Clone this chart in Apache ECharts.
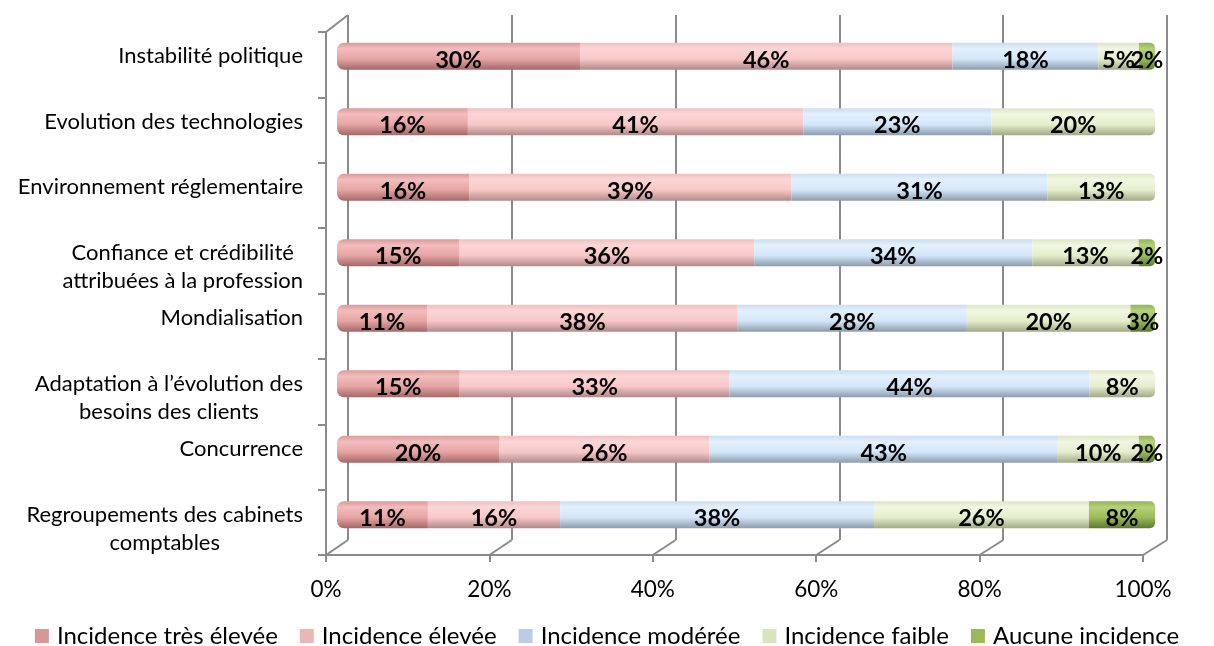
<!DOCTYPE html>
<html>
<head>
<meta charset="utf-8">
<script src="https://cdn.jsdelivr.net/npm/echarts@6/dist/echarts.min.js"></script>
<style>
  html, body { margin: 0; padding: 0; background: #ffffff; }
  #chart { width: 1214px; height: 646px; }
</style>
</head>
<body>
<div id="chart"></div>
<script>
// Facteurs d'incidence sur la profession (répartition des réponses, %)
const categories = [
  'Instabilité politique',
  'Evolution des technologies',
  'Environnement réglementaire',
  'Confiance et crédibilité\nattribuées à la profession',
  'Mondialisation',
  'Adaptation à l’évolution des\nbesoins des clients',
  'Concurrence',
  'Regroupements des cabinets\ncomptables'
];
const seriesNames = [
  'Incidence très élevée',
  'Incidence élevée',
  'Incidence modérée',
  'Incidence faible',
  'Aucune incidence'
];
const tresElevee = [30, 16, 16, 15, 11, 15, 20, 11];
const elevee     = [46, 41, 39, 36, 38, 33, 26, 16];
const moderee    = [18, 23, 31, 34, 28, 44, 43, 38];
const faible     = [5, 20, 13, 13, 20, 8, 10, 26];
const aucune     = [2, 0, 0, 2, 3, 0, 2, 8];
const axisTicks  = [0, 20, 40, 60, 80, 100];

const values = [tresElevee, elevee, moderee, faible, aucune];

// Styling
const FONT = 'Lato';
const LINE = '#8a8a8a';
const legendColors = ['#D99694', '#E6B9B8', '#B9CDE5', '#D7E4BD', '#9BBB59'];
// cylinder shading: top edge, highlight, body, shadowed bottom
const shades = [
  ['#DA9A9A', '#F3BDBD', '#E6A4A4', '#A36868'],
  ['#EFC0C0', '#FCD6D6', '#F8C8C8', '#B08989'],
  ['#CCDDF0', '#E3F0FD', '#D4E6FA', '#8D9CAC'],
  ['#DCE6C4', '#F1F7E2', '#E4EECB', '#A0AA88'],
  ['#93B356', '#B4D279', '#9BBB59', '#5E7930']
];

// Wall geometry of the pseudo-3D frame (back wall, floor/side, bar plane)
const BACK  = { left: 348, top: 15, right: 1167, bottom: 540 };
const FRONT = { left: 326, top: 32, right: 1143, bottom: 555 };
const MID = {
  left: (BACK.left + FRONT.left) / 2,
  top: (BACK.top + FRONT.top) / 2,
  right: (BACK.right + FRONT.right) / 2,
  bottom: (BACK.bottom + FRONT.bottom) / 2
};
const W = 1214, H = 646;

// 100% stacked: each row is scaled by its own total
const totals = categories.map((_, i) => values.reduce((s, arr) => s + arr[i], 0));
const lastIdx = categories.map((_, i) => {
  let k = -1;
  values.forEach((arr, j) => { if (arr[i] > 0) k = j; });
  return k;
});

function cylinder(s) {
  return new echarts.graphic.LinearGradient(0, 0, 0, 1, [
    { offset: 0, color: s[0] },
    { offset: 0.22, color: s[1] },
    { offset: 0.6, color: s[2] },
    { offset: 1, color: s[3] }
  ]);
}

const barSeries = values.map((arr, j) => ({
  name: seriesNames[j],
  type: 'bar',
  stack: 'total',
  xAxisIndex: 2,
  yAxisIndex: 2,
  barWidth: 27,
  z: 5,
  itemStyle: { color: cylinder(shades[j]) },
  label: {
    show: true,
    position: 'inside',
    offset: [0, 4],
    fontFamily: FONT,
    fontWeight: 'bold',
    fontSize: 23.5,
    color: '#000000',
    formatter: p => (p.data.raw ? p.data.raw + '%' : '')
  },
  data: arr.map((v, i) => {
    const r = [j === 0 ? 7 : 0, lastIdx[i] === j ? 5 : 0, lastIdx[i] === j ? 5 : 0, j === 0 ? 7 : 0];
    return { value: v / totals[i] * 100, raw: v, itemStyle: { borderRadius: r } };
  })
}));

const catAxisData = categories.map(c => (
  c.indexOf('\n') >= 0
    ? { value: c, textStyle: { padding: [28, 0, 0, 0] } }
    : c
));

const chart = echarts.init(document.getElementById('chart'), null, { renderer: 'canvas' });

chart.setOption({
  animation: false,
  backgroundColor: '#ffffff',
  grid: [
    { left: BACK.left, right: W - BACK.right, top: BACK.top, bottom: H - BACK.bottom },
    { left: FRONT.left, right: W - FRONT.right, top: FRONT.top, bottom: H - FRONT.bottom },
    { left: MID.left, right: W - MID.right, top: MID.top, bottom: H - MID.bottom }
  ],
  xAxis: [
    { // back wall gridlines
      gridIndex: 0, type: 'value', min: 0, max: 100, interval: 20,
      axisLine: { show: false }, axisTick: { show: false }, axisLabel: { show: false },
      splitLine: { show: true, lineStyle: { color: LINE, width: 2 } }
    },
    { // floor front edge with the percentage scale
      gridIndex: 1, type: 'value', min: 0, max: 100, interval: 20,
      axisLine: { show: true, lineStyle: { color: LINE, width: 2 } },
      axisTick: { show: true, length: 7, lineStyle: { color: LINE, width: 2 } },
      splitLine: { show: false },
      axisLabel: {
        show: true, margin: 23, fontFamily: FONT, fontSize: 22.5, color: '#000000',
        formatter: v => (axisTicks.indexOf(v) >= 0 ? v + '%' : '')
      }
    },
    { // bar plane
      gridIndex: 2, type: 'value', min: 0, max: 100, show: false
    }
  ],
  yAxis: [
    { gridIndex: 0, type: 'category', data: categories, show: false },
    { // side wall
      gridIndex: 1, type: 'category', data: categories, inverse: true,
      axisLine: { show: true, lineStyle: { color: LINE, width: 2 } },
      axisTick: { show: true, length: 8, lineStyle: { color: LINE, width: 2 } },
      axisLabel: { show: false },
      splitLine: { show: false }
    },
    { // category names at the bar plane
      gridIndex: 2, type: 'category', data: catAxisData, inverse: true,
      axisLine: { show: false }, axisTick: { show: false },
      axisLabel: {
        show: true, margin: 34, fontFamily: FONT, fontSize: 22, color: '#000000',
        align: 'right',
        formatter: v => v.split('\n').map(l => '{c|' + l + '}').join('\n'),
        rich: { c: { align: 'center', fontFamily: FONT, fontSize: 22, lineHeight: 28, color: '#000000' } }
      }
    }
  ],
  legend: {
    top: 619,
    left: 'center',
    icon: 'rect',
    itemWidth: 14,
    itemHeight: 14,
    itemGap: 22,
    textStyle: { fontFamily: FONT, fontSize: 24, color: '#000000', padding: [0, 0, 0, 3] },
    data: seriesNames.map((n, j) => ({ name: n, itemStyle: { color: legendColors[j] } }))
  },
  series: barSeries
});

// Oblique edges joining the floor front edge to the back wall
const edges = [];
axisTicks.forEach(t => {
  const xb = chart.convertToPixel({ xAxisIndex: 0 }, t);
  const xf = chart.convertToPixel({ xAxisIndex: 1 }, t);
  edges.push({ x1: xf, y1: FRONT.bottom, x2: xb, y2: BACK.bottom });
});
edges.push({ x1: FRONT.left, y1: FRONT.top, x2: BACK.left, y2: BACK.top });

chart.setOption({
  graphic: edges.map(e => ({
    type: 'line',
    z: 1,
    silent: true,
    shape: e,
    style: { stroke: LINE, lineWidth: 2 }
  }))
});
</script>
</body>
</html>
